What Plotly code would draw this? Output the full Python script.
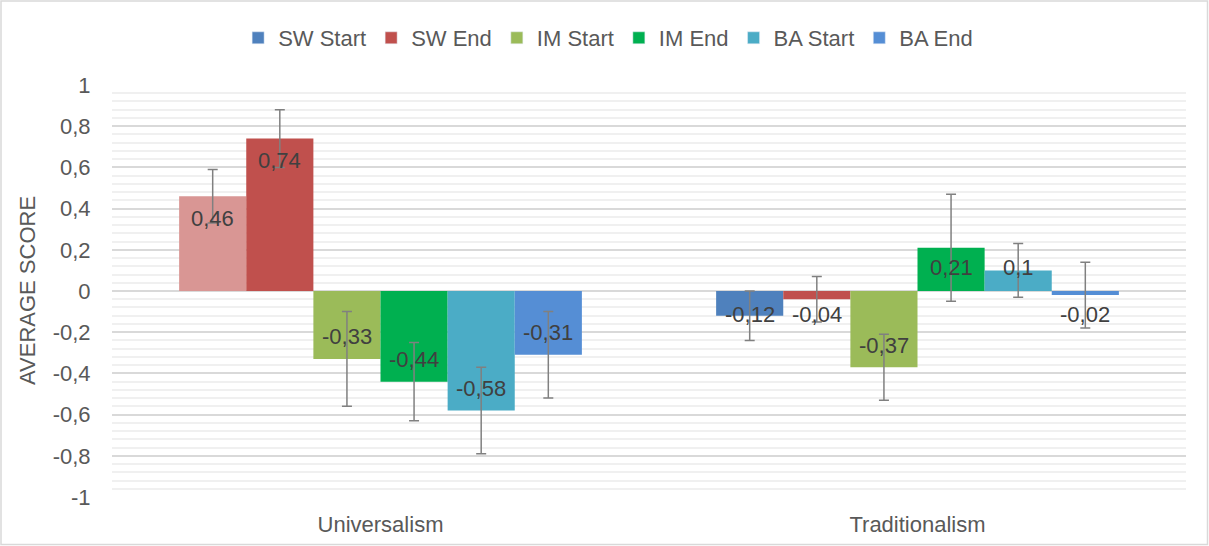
import plotly.graph_objects as go

categories = ["Universalism", "Traditionalism"]
series_names = ["SW Start", "SW End", "IM Start", "IM End", "BA Start", "BA End"]
sw_start = [0.46, -0.12]
sw_end = [0.74, -0.04]
im_start = [-0.33, -0.37]
im_end = [-0.44, 0.21]
ba_start = [-0.58, 0.10]
ba_end = [-0.31, -0.02]
sw_start_err = [0.13, 0.12]
sw_end_err = [0.14, 0.11]
im_start_err = [0.23, 0.16]
im_end_err = [0.19, 0.26]
ba_start_err = [0.21, 0.13]
ba_end_err = [0.21, 0.16]
y_ticks = [-1, -0.8, -0.6, -0.4, -0.2, 0, 0.2, 0.4, 0.6, 0.8, 1]
y_tick_labels = ["-1", "-0,8", "-0,6", "-0,4", "-0,2", "0", "0,2", "0,4", "0,6", "0,8", "1"]

values = [sw_start, sw_end, im_start, im_end, ba_start, ba_end]
errors = [sw_start_err, sw_end_err, im_start_err, im_end_err, ba_start_err, ba_end_err]
colors = [
    ["#D99694", "#4F81BD"],
    ["#C0504D", "#C0504D"],
    ["#9BBB59", "#9BBB59"],
    ["#00B050", "#00B050"],
    ["#4BACC6", "#4BACC6"],
    ["#558ED5", "#558ED5"],
]
legend_colors = ["#4F81BD", "#C0504D", "#9BBB59", "#00B050", "#4BACC6", "#558ED5"]

FONT = "Liberation Sans, Arial, sans-serif"
FS = 22
W, H = 1209, 546
ML, MR, MT, MB = 112, 23, 85, 49
bargap = 0.25
n = len(series_names)
xpos = list(range(len(categories)))

fig = go.Figure()
for i, name in enumerate(series_names):
    fig.add_trace(go.Bar(
        x=xpos, y=values[i], name=name,
        marker=dict(color=colors[i], line=dict(width=0)),
        error_y=dict(type="data", array=errors[i], color="#808080", thickness=1.5, width=5),
        showlegend=False,
    ))
for i, name in enumerate(series_names):
    # legend-only entries drawn on hidden overlay axes so they don't affect grouping
    fig.add_trace(go.Bar(x=[None], y=[None], name=name, marker=dict(color=legend_colors[i]),
                         xaxis="x2", yaxis="y2", showlegend=True))

# data labels
bw = (1 - bargap) / n
annotations = []
for i in range(n):
    for j, v in enumerate(values[i]):
        s = 1 if v >= 0 else -1
        ly = s * max(abs(v) - 0.107, 0.115)
        txt = ("%g" % v).replace(".", ",")
        annotations.append(dict(
            x=xpos[j] + (i - (n - 1) / 2) * bw, y=ly, xref="x", yref="y",
            text=txt, showarrow=False, font=dict(family=FONT, size=FS, color="#404040"),
            xanchor="center", yanchor="middle",
        ))

pw = W - ML - MR
ph = H - MT - MB
annotations.append(dict(
    x=-(ML - 27) / pw, y=0.5, xref="paper", yref="paper", text="AVERAGE SCORE",
    textangle=-90, showarrow=False, font=dict(family=FONT, size=FS, color="#595959"),
    xanchor="center", yanchor="middle",
))

fig.update_layout(
    width=W, height=H,
    margin=dict(l=ML, r=MR, t=MT, b=MB, autoexpand=False),
    paper_bgcolor="white", plot_bgcolor="white",
    barmode="group", bargap=bargap, bargroupgap=0,
    font=dict(family=FONT, size=FS, color="#595959"),
    legend=dict(orientation="h", xref="container", yref="container", x=0.503, y=1 - 38 / H,
                xanchor="center", yanchor="middle", font=dict(size=FS, color="#595959"),
                itemwidth=30, traceorder="normal"),
    annotations=annotations,
    shapes=[dict(type="rect", xref="paper", yref="paper",
                 x0=-(ML - 1) / pw, x1=1 + (MR - 1.5) / pw,
                 y0=-(MB - 1.5) / ph, y1=1 + (MT - 1) / ph,
                 line=dict(color="#D9D9D9", width=1.5), fillcolor="rgba(0,0,0,0)", layer="below")],
    xaxis2=dict(overlaying="x", visible=False, range=[0, 1]),
    yaxis2=dict(overlaying="y", visible=False, range=[0, 1]),
)
fig.update_layout(yaxis=dict(range=[-1, 1], tickvals=y_ticks, ticktext=y_tick_labels, showgrid=True,
                 gridcolor="#D9D9D9", gridwidth=1.5, zeroline=False, showline=False,
                 ticks="outside", ticklen=16, tickcolor="rgba(0,0,0,0)",
                 tickfont=dict(size=FS, color="#595959"),
                 minor=dict(dtick=0.04, tick0=0, showgrid=True, gridcolor="#F0F0F0", gridwidth=1.5)))
fig.update_layout(xaxis=dict(range=[-0.5, 1.5], tickvals=xpos, ticktext=categories,
                 showgrid=False, zeroline=False, showline=False, ticks="outside", ticklen=8,
                 tickcolor="rgba(0,0,0,0)", tickfont=dict(size=FS, color="#595959")))

fig.write_html("out.html", config={"displayModeBar": False},
               post_script="document.body.style.margin='0';document.body.style.padding='0';"
                           "document.body.style.overflow='hidden';")
